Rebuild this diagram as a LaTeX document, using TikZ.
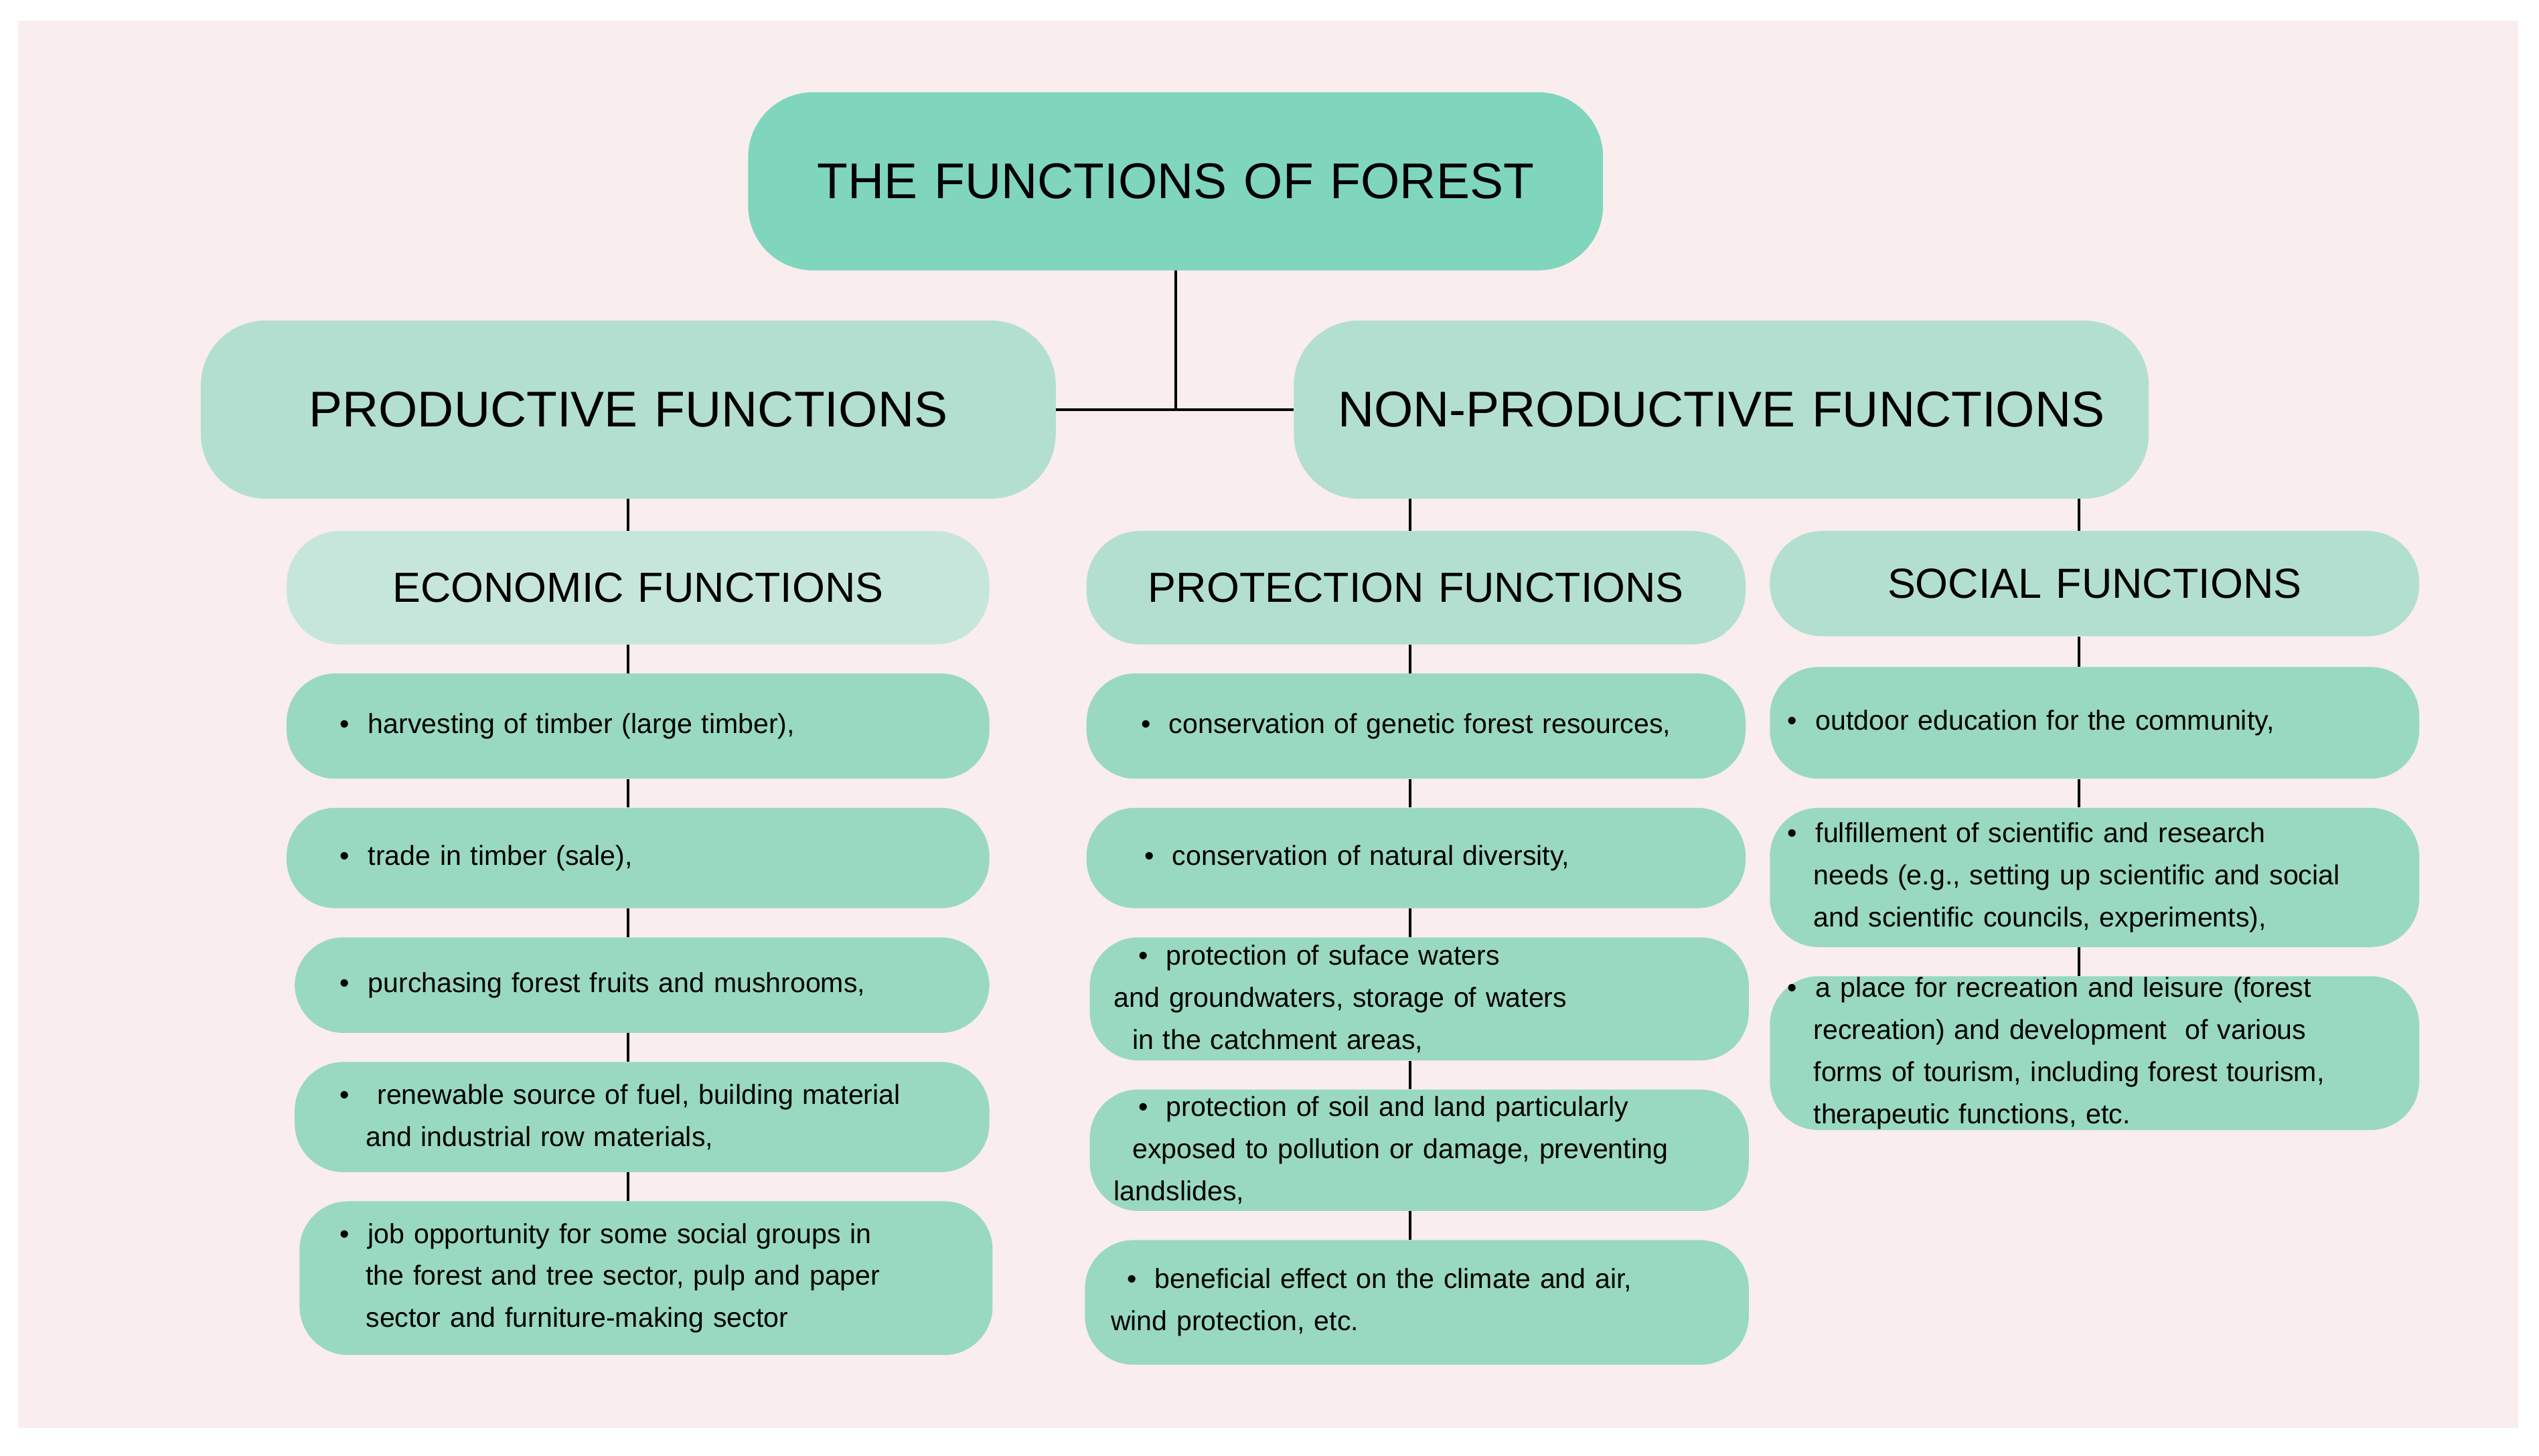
\documentclass[tikz,border=0pt]{standalone}
\usepackage{fontspec}
\setmainfont{Liberation Sans}
\definecolor{bgp}{HTML}{F9EDED}
\definecolor{ctop}{HTML}{7FD6BC}
\definecolor{clev}{HTML}{B3DFD0}
\definecolor{cecon}{HTML}{C6E6DC}
\definecolor{citem}{HTML}{99D9C1}
\newcommand\bx[8]{%
\pgfmathsetmacro\bxcx{(#2+#4)/2}\pgfmathsetmacro\bxcy{-(#3+#5)/2}%
\pgfmathsetmacro\bxw{#4-#2}\pgfmathsetmacro\bxh{#5-#3}\pgfmathsetmacro\bxtw{#4-#2-2*#7}%
\node[#6, inner xsep=#7pt, minimum width=\bxw pt, minimum height=\bxh pt, text width=\bxtw pt] (#1) at (\bxcx pt,\bxcy pt) {#8};}
\newcommand\ind{\hspace*{16pt}}
\tikzset{
 box/.style={draw=none, rounded corners=30pt, inner ysep=0pt},
 head/.style={box, rounded corners=40pt, align=center},
 item/.style={box, fill=citem, align=left, font=\fontsize{17}{26}\selectfont},
 conn/.style={draw=black, line width=1.6pt}
}
\begin{document}
\begin{tikzpicture}
\useasboundingbox (0,0) rectangle (1568pt,-899pt);
\fill[bgp] (11pt,-13pt) rectangle (1555pt,-882pt);
\bx{top}{462}{57}{990}{167}{head, fill=ctop, font=\fontsize{31}{36}\selectfont}{0}{THE FUNCTIONS OF FOREST}
\bx{prod}{124}{198}{652}{308}{head, fill=clev, font=\fontsize{31}{36}\selectfont}{0}{PRODUCTIVE FUNCTIONS}
\bx{nonprod}{799}{198}{1327}{308}{head, fill=clev, font=\fontsize{31}{36}\selectfont}{0}{NON-PRODUCTIVE FUNCTIONS}
\bx{econ}{177}{328}{611}{398}{head, rounded corners=33pt, fill=cecon, font=\fontsize{26}{30}\selectfont}{0}{ECONOMIC FUNCTIONS}
\bx{prot}{671}{328}{1078}{398}{head, rounded corners=33pt, fill=clev, font=\fontsize{26}{30}\selectfont}{0}{PROTECTION FUNCTIONS}
\bx{soc}{1093}{328}{1494}{393}{head, rounded corners=32pt, fill=clev, font=\fontsize{26}{30}\selectfont}{0}{SOCIAL FUNCTIONS}
% left column
\bx{e1}{177}{416}{611}{481}{item}{33}{\textbullet\ \ harvesting of timber (large timber),}
\bx{e2}{177}{499}{611}{561}{item}{33}{\textbullet\ \ trade in timber (sale),}
\bx{e3}{182}{579}{611}{638}{item}{28}{\textbullet\ \ purchasing forest fruits and mushrooms,}
\bx{e4}{182}{656}{611}{724}{item}{28}{\textbullet\ \ \ renewable source of fuel, building material\\\ind and industrial row materials,}
\bx{e5}{185}{742}{613}{837}{item}{25}{\textbullet\ \ job opportunity for some social groups in\\\ind the forest and tree sector, pulp and paper\\\ind sector and furniture-making sector}
% middle column
\bx{m1}{671}{416}{1078}{481}{item}{28}{\ \textbullet\ \ conservation of genetic forest resources,}
\bx{m2}{671}{499}{1078}{561}{item}{30}{\ \textbullet\ \ conservation of natural diversity,}
\bx{m3}{673}{579}{1080}{655}{item}{15}{\hspace*{15pt}\textbullet\ \ protection of suface waters\\and groundwaters, storage of waters\\\ \ in the catchment areas,}
\bx{m4}{673}{673}{1080}{748}{item}{15}{\hspace*{15pt}\textbullet\ \ protection of soil and land particularly\\\ \ exposed to pollution or damage, preventing\\landslides,}
\bx{m5}{670}{766}{1080}{843}{item}{16}{\hspace*{10pt}\textbullet\ \ beneficial effect on the climate and air,\\wind protection, etc.}
% right column
\bx{s1}{1093}{412}{1494}{481}{item}{11}{\textbullet\ \ outdoor education for the community,}
\bx{s2}{1093}{499}{1494}{585}{item}{11}{\textbullet\ \ fulfillement of scientific and research\\\ind needs (e.g., setting up scientific and social\\\ind and scientific councils, experiments),}
\bx{s3}{1093}{603}{1494}{698}{item}{11}{\textbullet\ \ a place for recreation and leisure (forest\\\ind recreation) and development\ \ of various\\\ind forms of tourism, including forest tourism,\\\ind therapeutic functions, etc.}
% connectors
\draw[conn] (top.south) -- (top.south |- prod.east);
\draw[conn] (prod.east) -- (nonprod.west);
\draw[conn] (prod.south) -- (prod.south |- econ.north);
\draw[conn] (econ.south -| prod.south) -- (e1.north -| prod.south);
\draw[conn] (e1.south -| prod.south) -- (e2.north -| prod.south);
\draw[conn] (e2.south -| prod.south) -- (e3.north -| prod.south);
\draw[conn] (e3.south -| prod.south) -- (e4.north -| prod.south);
\draw[conn] (e4.south -| prod.south) -- (e5.north -| prod.south);
\coordinate (mx) at (871pt,0);
\coordinate (sx) at (1284pt,0);
\draw[conn] (nonprod.south -| mx) -- (prot.north -| mx);
\draw[conn] (nonprod.south -| sx) -- (soc.north -| sx);
\draw[conn] (prot.south -| mx) -- (m1.north -| mx);
\draw[conn] (m1.south -| mx) -- (m2.north -| mx);
\draw[conn] (m2.south -| mx) -- (m3.north -| mx);
\draw[conn] (m3.south -| mx) -- (m4.north -| mx);
\draw[conn] (m4.south -| mx) -- (m5.north -| mx);
\draw[conn] (soc.south -| sx) -- (s1.north -| sx);
\draw[conn] (s1.south -| sx) -- (s2.north -| sx);
\draw[conn] (s2.south -| sx) -- (s3.north -| sx);
\end{tikzpicture}
\end{document}
